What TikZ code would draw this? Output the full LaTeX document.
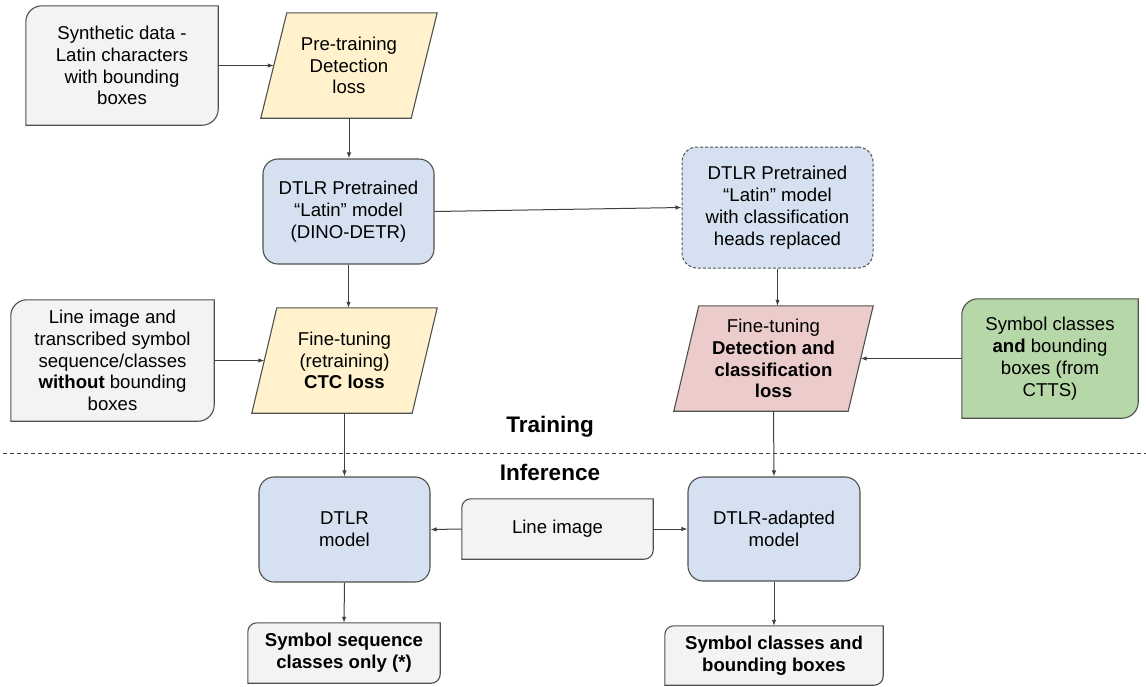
\documentclass[tikz,border=0pt]{standalone}
\usepackage{fontspec}
\setmainfont{Liberation Sans}
\usetikzlibrary{calc,arrows.meta,backgrounds}

\definecolor{edge}{HTML}{505050}
\definecolor{wire}{HTML}{404040}
\definecolor{greyfill}{HTML}{F3F3F3}
\definecolor{yellowfill}{HTML}{FFF2CC}
\definecolor{bluefill}{HTML}{D5E1F1}
\definecolor{redfill}{HTML}{EBCCCB}
\definecolor{greenfill}{HTML}{B6D7A8}

% box whose top-left and bottom-right corners are rounded (radius #3)
\newcommand\diagbox[3]{%
  \begin{scope}[on background layer]
    \filldraw[boxline, fill=#2]
      (#1.north east) -- ($(#1.north west)+(#3,0)$)
      .. controls ($(#1.north west)+({0.45*#3},0)$) and ($(#1.north west)+(0,{0.45*#3})$) ..
      ($(#1.north west)+(0,#3)$) -- (#1.south west) -- ($(#1.south east)+(-#3,0)$)
      .. controls ($(#1.south east)+({-0.45*#3},0)$) and ($(#1.south east)+(0,{-0.45*#3})$) ..
      ($(#1.south east)+(0,-#3)$) -- cycle;
  \end{scope}}

% slanted box; #3 is half of the horizontal slant
\newcommand\slantbox[3]{%
  \begin{scope}[on background layer]
    \filldraw[boxline, fill=#2]
      ($(#1.north west)+(#3,0)$) -- ($(#1.north east)+(#3,0)$) --
      ($(#1.south east)-(#3,0)$) -- ($(#1.south west)-(#3,0)$) -- cycle;
  \end{scope}}

\tikzset{
  boxline/.style={draw=edge, line width=1.1pt},
  body/.style={rectangle, inner sep=0pt, align=center,
    font=\fontsize{18.6}{21.8}\selectfont},
  plain/.style={body},
  roundbox/.style={body, boxline, rounded corners=15pt},
  dashbox/.style={roundbox, dash pattern=on 3pt off 2pt, line width=1pt},
  flow/.style={draw=wire, line width=1pt, -{Latex[length=6pt,width=4.5pt]}},
  heading/.style={font=\fontsize{22.5}{25}\selectfont\bfseries},
  sep/.style={draw=wire, line width=1pt, dash pattern=on 4pt off 3pt}
}

\begin{document}
\begin{tikzpicture}[x=1pt, y=-1pt]
\useasboundingbox (0,0) rectangle (1146,686);

% ---------- training ----------
\node[plain, minimum width=192, minimum height=119] (syn) at (122,65.5)
  {Synthetic data -\\Latin characters\\with bounding\\boxes};
\diagbox{syn}{greyfill}{16}

\node[plain, minimum width=150, minimum height=105] (pre) at (349,65.5)
  {Pre-training\\Detection\\loss};
\slantbox{pre}{yellowfill}{13}

\node[roundbox, fill=bluefill, minimum width=171, minimum height=105] (dtlrpre) at (348.5,211.5)
  {DTLR Pretrained\\“Latin” model\\(DINO-DETR)};

\node[dashbox, fill=bluefill, minimum width=191, minimum height=121] (heads) at (777.5,207.5)
  {DTLR Pretrained\\“Latin” model\\with classification\\heads replaced};

\node[plain, minimum width=203, minimum height=121] (lit) at (112.5,360.5)
  {Line image and\\transcribed symbol\\sequence/classes\\\textbf{without} bounding\\boxes};
\diagbox{lit}{greyfill}{16}

\node[plain, minimum width=160, minimum height=105] (ctc) at (344.5,360.5)
  {Fine-tuning\\(retraining)\\\textbf{CTC loss}};
\slantbox{ctc}{yellowfill}{12.5}

\node[plain, minimum width=174, minimum height=105] (det) at (773.5,358.5)
  {Fine-tuning\\\textbf{Detection and}\\\textbf{classification}\\\textbf{loss}};
\slantbox{det}{redfill}{12.5}

\node[plain, minimum width=176, minimum height=119] (cls) at (1050,358.5)
  {Symbol classes\\\textbf{and} bounding\\boxes (from\\CTTS)};
\diagbox{cls}{greenfill}{16}

% ---------- split ----------
\node[heading] (train) at (550,427) {Training};
\coordinate (sepL) at (3,453);
\coordinate (sepR) at (1146,453);
\draw[sep] (sepL) -- (sepR);
\node[heading] (infer) at (550,472) {Inference};

% ---------- inference ----------
\node[roundbox, fill=bluefill, minimum width=171, minimum height=105] (dtlr) at (344.5,529.5)
  {DTLR\\model};

\node[plain, minimum width=191, minimum height=60] (line) at (557.5,529)
  {Line image};
\diagbox{line}{greyfill}{9}

\node[roundbox, fill=bluefill, minimum width=172, minimum height=104] (adapted) at (774,529)
  {DTLR-adapted\\model};

\node[plain, font=\fontsize{18.6}{21.8}\selectfont\bfseries, minimum width=192, minimum height=60] (out1) at (344,653)
  {Symbol sequence\\classes only (*)};
\diagbox{out1}{greyfill}{9}

\node[plain, font=\fontsize{18.6}{21.8}\selectfont\bfseries, minimum width=218, minimum height=59] (out2) at (774,655.5)
  {Symbol classes and\\bounding boxes};
\diagbox{out2}{greyfill}{9}

% ---------- connectors ----------
\draw[flow] (syn.east) -- (pre.west);
\draw[flow] (pre.south) -- (pre.south |- dtlrpre.north);
\draw[flow] (dtlrpre.east) -- (heads.west);
\draw[flow] (dtlrpre.south) -- (dtlrpre.south |- ctc.north);
\draw[flow] (lit.east) -- (ctc.west);
\draw[flow] (heads.south) -- (heads.south |- det.north);
\draw[flow] (cls.west) -- (det.east);
\draw[flow] (ctc.south) -- (dtlr.north);
\draw[flow] (det.south) -- (adapted.north);
\draw[flow] (line.west) -- (dtlr.east);
\draw[flow] (line.east) -- (adapted.west);
\draw[flow] (dtlr.south) -- (out1.north);
\draw[flow] (adapted.south) -- (out2.north);
\end{tikzpicture}
\end{document}
